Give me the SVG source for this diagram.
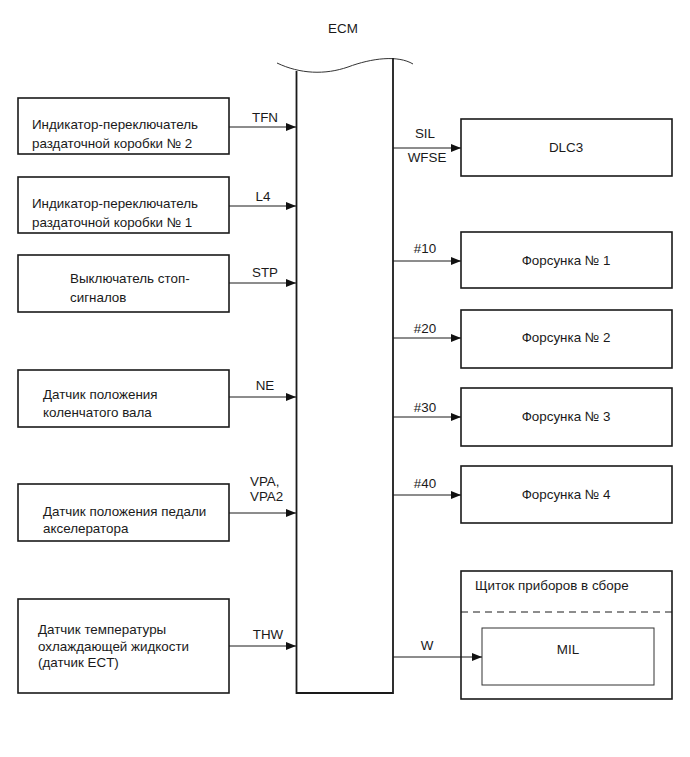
<svg xmlns="http://www.w3.org/2000/svg" width="690" height="757" viewBox="0 0 690 757">
<defs>
<marker id="ah" viewBox="0 0 10 10" refX="10" refY="5" markerWidth="10" markerHeight="10" markerUnits="userSpaceOnUse" orient="auto">
<path d="M0,1 L10,5 L0,9 Z" fill="#111"/>
</marker>
<style>
text{font-family:"Liberation Sans",Arial,sans-serif;font-size:13.4px;fill:#1a1a1a}
.box{fill:#fff;stroke:#1a1a1a;stroke-width:1.6}
.inner{fill:#fff;stroke:#333;stroke-width:1}
.ecm{fill:none;stroke:#1a1a1a;stroke-width:1.8}
.wire{stroke:#1a1a1a;stroke-width:1;fill:none;marker-end:url(#ah)}
.c{text-anchor:middle}
</style>
</defs>
<rect width="690" height="757" fill="#fff"/>

<g id="ecm">
<text class="c" x="343" y="33">ECM</text>
<path d="M277,63 C300,74 325,75 348,67 C372,58 398,55 413,64" fill="none" stroke="#333" stroke-width="1"/>
<path class="ecm" d="M296.5,71 L296.5,693 L393,693 L393,58"/>
</g>

<g id="n-tfn"><rect class="box" x="18" y="98" width="211" height="56"/>
<text x="32" y="129">Индикатор-переключатель</text><text x="32" y="148">раздаточной коробки № 2</text></g>
<g id="n-l4"><rect class="box" x="18" y="177" width="211" height="56"/>
<text x="32" y="208">Индикатор-переключатель</text><text x="32" y="227">раздаточной коробки № 1</text></g>
<g id="n-stp"><rect class="box" x="18" y="255" width="211" height="57"/>
<text x="70" y="283">Выключатель стоп-</text><text x="70" y="302">сигналов</text></g>
<g id="n-ne"><rect class="box" x="18" y="370" width="211" height="57"/>
<text x="43" y="399">Датчик положения</text><text x="43" y="417">коленчатого вала</text></g>
<g id="n-vpa"><rect class="box" x="18" y="484" width="211" height="57"/>
<text x="43" y="516">Датчик положения педали</text><text x="43" y="533">акселератора</text></g>
<g id="n-thw"><rect class="box" x="18" y="599" width="211" height="94"/>
<text x="38" y="634">Датчик температуры</text><text x="38" y="651">охлаждающей жидкости</text><text x="38" y="667">(датчик ECT)</text></g>

<g id="n-dlc3"><rect class="box" x="461" y="119" width="211" height="57"/>
<text class="c" x="566" y="152">DLC3</text></g>
<g id="n-f1"><rect class="box" x="461" y="232" width="211" height="56"/>
<text class="c" x="566" y="265">Форсунка № 1</text></g>
<g id="n-f2"><rect class="box" x="461" y="310" width="211" height="58"/>
<text class="c" x="566" y="342">Форсунка № 2</text></g>
<g id="n-f3"><rect class="box" x="461" y="388" width="211" height="58"/>
<text class="c" x="566" y="421">Форсунка № 3</text></g>
<g id="n-f4"><rect class="box" x="461" y="466" width="211" height="57"/>
<text class="c" x="566" y="499">Форсунка № 4</text></g>
<g id="n-cluster"><rect class="box" x="461" y="571" width="211" height="128"/>
<text x="475" y="590">Щиток приборов в сборе</text>
<line x1="461" y1="612" x2="672" y2="612" stroke="#1a1a1a" stroke-width="1" stroke-dasharray="7,5"/>
<g id="n-mil"><rect class="inner" x="482" y="628" width="172" height="57"/>
<text class="c" x="568" y="654">MIL</text></g></g>

<g id="connectors">
<line class="wire" x1="229" y1="127" x2="296" y2="127"/>
<line class="wire" x1="229" y1="206" x2="296" y2="206"/>
<line class="wire" x1="229" y1="283" x2="296" y2="283"/>
<line class="wire" x1="229" y1="397" x2="296" y2="397"/>
<line class="wire" x1="229" y1="513" x2="296" y2="513"/>
<line class="wire" x1="229" y1="646" x2="296" y2="646"/>
<line class="wire" x1="393" y1="148" x2="461" y2="148"/>
<line class="wire" x1="393" y1="261" x2="461" y2="261"/>
<line class="wire" x1="393" y1="338" x2="461" y2="338"/>
<line class="wire" x1="393" y1="417" x2="461" y2="417"/>
<line class="wire" x1="393" y1="495" x2="461" y2="495"/>
<line class="wire" x1="393" y1="657" x2="482" y2="657"/>
<text class="c" x="265" y="122">TFN</text>
<text class="c" x="263" y="201">L4</text>
<text class="c" x="265" y="277">STP</text>
<text class="c" x="265" y="390">NE</text>
<text x="250" y="486">VPA,</text>
<text x="250" y="501">VPA2</text>
<text class="c" x="268" y="639">THW</text>
<text class="c" x="425" y="138">SIL</text>
<text class="c" x="427" y="162">WFSE</text>
<text class="c" x="425" y="253">#10</text>
<text class="c" x="425" y="333">#20</text>
<text class="c" x="425" y="412">#30</text>
<text class="c" x="425" y="488">#40</text>
<text class="c" x="427" y="650">W</text>
</g>
</svg>
